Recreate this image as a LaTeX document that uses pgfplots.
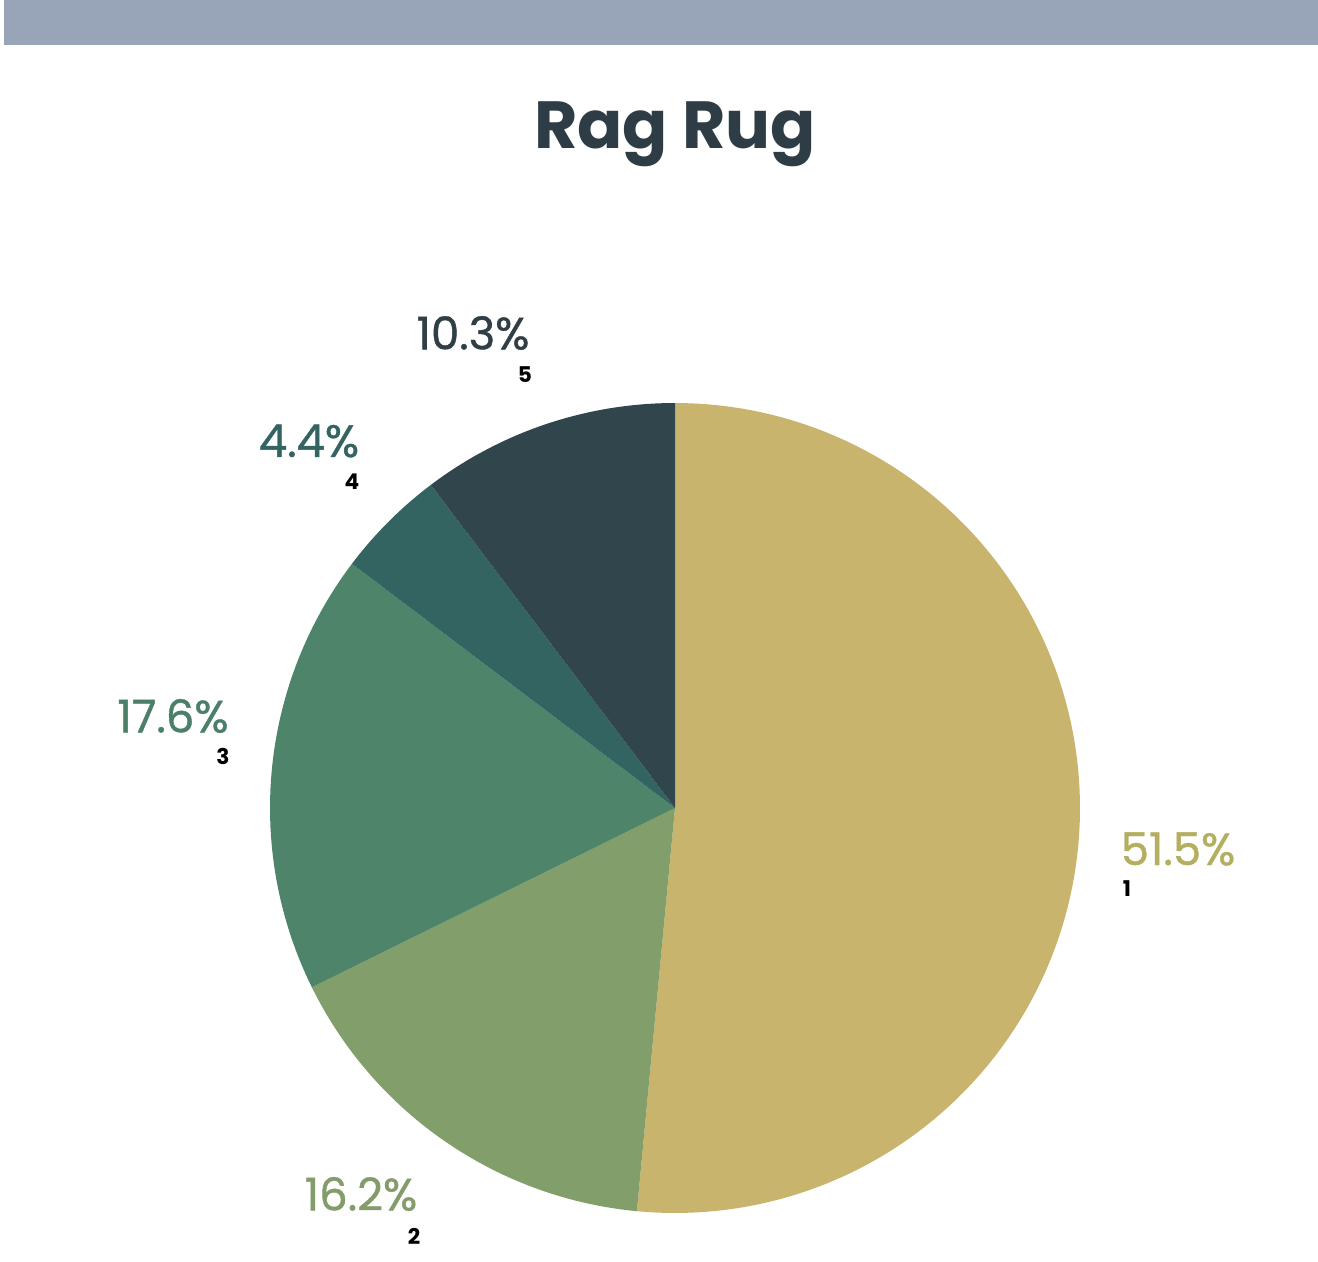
\documentclass[border=0pt]{standalone}
\usepackage{pgfplots}
\usepackage{pgfplotstable}
\pgfplotsset{compat=1.18}
\usepackage{fontspec}
\setmainfont{Poppins}
\newfontfamily\labfont{Poppins}[FakeBold=0.9]
\definecolor{cA}{HTML}{C9B46E}
\definecolor{cB}{HTML}{829E6A}
\definecolor{cC}{HTML}{4E8469}
\definecolor{cD}{HTML}{336462}
\definecolor{cE}{HTML}{31454D}
\definecolor{tA}{HTML}{B3AF5E}
\definecolor{tB}{HTML}{849B6B}
\definecolor{tC}{HTML}{4A8068}
\definecolor{tD}{HTML}{336462}
\definecolor{tE}{HTML}{2F3F45}
\definecolor{banner}{HTML}{98A4B7}
\definecolor{titlec}{HTML}{2E3D45}

\pgfplotstableread{
slice value
1 51.5
2 16.2
3 17.6
4 4.4
5 10.3
}\piedata
\pgfplotstablegetelem{0}{value}\of\piedata \let\vA\pgfplotsretval
\pgfplotstablegetelem{1}{value}\of\piedata \let\vB\pgfplotsretval
\pgfplotstablegetelem{2}{value}\of\piedata \let\vC\pgfplotsretval
\pgfplotstablegetelem{3}{value}\of\piedata \let\vD\pgfplotsretval
\pgfplotstablegetelem{4}{value}\of\piedata \let\vE\pgfplotsretval
\pgfmathsetmacro\aA{90}
\pgfmathsetmacro\aB{\aA-3.6*\vA}
\pgfmathsetmacro\aC{\aB-3.6*\vB}
\pgfmathsetmacro\aD{\aC-3.6*\vC}
\pgfmathsetmacro\aE{\aD-3.6*\vD}
\pgfmathsetmacro\aF{\aE-3.6*\vE}
\def\cx{675}
\def\cy{453}
\def\rr{405}

\begin{document}
\begin{tikzpicture}
\begin{axis}[hide axis, scale only axis, x=0.3pt, y=0.3pt,
  xmin=0, xmax=1318, ymin=0, ymax=1261, clip=false]
\fill[white] (axis cs:0,0) rectangle (axis cs:1318,1261);
\fill[banner] (axis cs:4,1216) rectangle (axis cs:1318,1261);
\node[font=\fontsize{20}{24}\selectfont\bfseries, text=titlec] at (axis cs:675,1127) {Rag Rug};
\addplot[fill=cA, draw=none, domain=\aB:\aA, samples=120] ({\cx+\rr*cos(x)},{\cy+\rr*sin(x)}) -- (axis cs:\cx,\cy) -- cycle;
\addplot[fill=cB, draw=none, domain=\aC:\aB, samples=60] ({\cx+\rr*cos(x)},{\cy+\rr*sin(x)}) -- (axis cs:\cx,\cy) -- cycle;
\addplot[fill=cC, draw=none, domain=\aD:\aC, samples=60] ({\cx+\rr*cos(x)},{\cy+\rr*sin(x)}) -- (axis cs:\cx,\cy) -- cycle;
\addplot[fill=cD, draw=none, domain=\aE:\aD, samples=30] ({\cx+\rr*cos(x)},{\cy+\rr*sin(x)}) -- (axis cs:\cx,\cy) -- cycle;
\addplot[fill=cE, draw=none, domain=\aF:\aE, samples=40] ({\cx+\rr*cos(x)},{\cy+\rr*sin(x)}) -- (axis cs:\cx,\cy) -- cycle;
\tikzset{pl/.style={font=\labfont\fontsize{13.5}{15}\selectfont}, nl/.style={font=\fontsize{6.5}{8}\selectfont\bfseries, text=black}}
\node[pl, text=tE] at (axis cs:473,928) {10.3\%};
\node[nl] at (axis cs:525,886) {5};
\node[pl, text=tD] at (axis cs:309,820) {4.4\%};
\node[nl] at (axis cs:352,779) {4};
\node[pl, text=tC] at (axis cs:173,545) {17.6\%};
\node[nl] at (axis cs:223,505) {3};
\node[pl, text=tA] at (axis cs:1178,412) {51.5\%};
\node[nl] at (axis cs:1127,372) {1};
\node[pl, text=tB] at (axis cs:361,67) {16.2\%};
\node[nl] at (axis cs:414,25) {2};
\end{axis}
\end{tikzpicture}
\end{document}
